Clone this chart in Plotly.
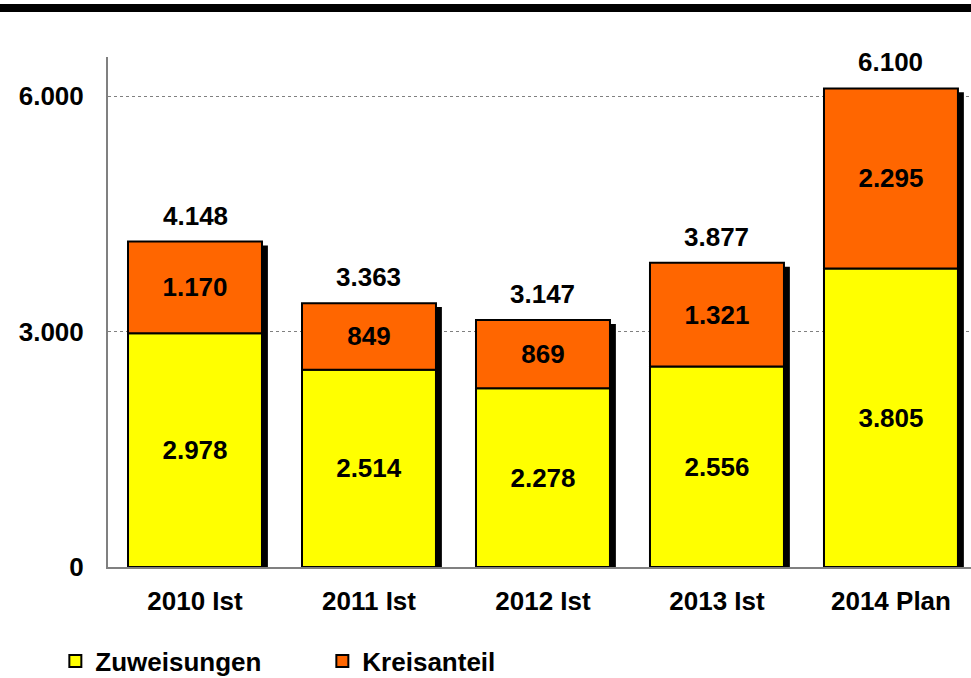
import plotly.graph_objects as go

# Categories and series values
jahre = ["2010 Ist", "2011 Ist", "2012 Ist", "2013 Ist", "2014 Plan"]
zuweisungen = [2978, 2514, 2278, 2556, 3805]
kreisanteil = [1170, 849, 869, 1321, 2295]
gesamt = [4148, 3363, 3147, 3877, 6100]
y_ticks = [0, 3000, 6000]

GELB = "#FFFF00"
ORANGE = "#FF6600"
FONT = "Arial, Liberation Sans, sans-serif"
FS = 26

pos = list(range(len(jahre)))
BAR_W = 0.77
SHADOW_DX = 0.034      # shadow offset to the right (x units)
SHADOW_DY = 50         # shadow drop (y units)

fig = go.Figure()

# drop shadow behind each stacked column
fig.add_trace(go.Bar(
    x=pos, y=[g - SHADOW_DY for g in gesamt], base=0,
    width=BAR_W, offset=-BAR_W / 2 + SHADOW_DX,
    marker=dict(color="black", line=dict(width=0)),
    showlegend=False, hoverinfo="skip",
))

fig.add_trace(go.Bar(
    x=pos, y=zuweisungen, base=0, name="Zuweisungen",
    width=BAR_W,
    marker=dict(color=GELB, line=dict(color="black", width=2)),
    text=zuweisungen, texttemplate="<b>%{y:,.0f}</b>",
    textposition="inside", insidetextanchor="middle", textangle=0,
    textfont=dict(family=FONT, size=FS, color="black"),
    constraintext="none",
))

fig.add_trace(go.Bar(
    x=pos, y=kreisanteil, base=zuweisungen, name="Kreisanteil",
    width=BAR_W,
    marker=dict(color=ORANGE, line=dict(color="black", width=2)),
    text=kreisanteil, texttemplate="<b>%{y:,.0f}</b>",
    textposition="inside", insidetextanchor="middle", textangle=0,
    textfont=dict(family=FONT, size=FS, color="black"),
    constraintext="none",
))

# totals above the columns
for xi, g in zip(pos, gesamt):
    fig.add_annotation(
        x=xi, y=g, xref="x", yref="y", text=f"<b>{g:,.0f}</b>".replace(",", "."),
        showarrow=False, yanchor="bottom", yshift=9,
        font=dict(family=FONT, size=FS, color="black"),
    )

# heavy rule across the top
fig.add_shape(type="rect", xref="paper", yref="paper",
              x0=-0.2, x1=1.05, y0=(567 - 12) / 510, y1=(567 - 4) / 510,
              fillcolor="black", line=dict(width=0), layer="above")

fig.update_layout(
    width=971, height=678,
    margin=dict(l=108, r=0, t=57, b=111),
    paper_bgcolor="white", plot_bgcolor="white",
    barmode="overlay",
    separators=",.",
    uniformtext=dict(minsize=FS, mode="show"),
    font=dict(family=FONT, size=FS, color="black"),
    xaxis=dict(
        range=[-0.5, 4.46], tickvals=pos,
        ticktext=[f"<b>{j}</b>" for j in jahre],
        showgrid=False, zeroline=False,
        showline=True, linecolor="#808080", linewidth=2,
        ticks="", ticklabelstandoff=10,
        tickfont=dict(family=FONT, size=FS, color="black"),
    ),
    yaxis=dict(
        range=[0, 6500], tickvals=y_ticks,
        ticktext=[f"<b>{v:,.0f}</b>".replace(",", ".") for v in y_ticks],
        showgrid=True, gridcolor="#808080", griddash="dot", gridwidth=1,
        zeroline=False,
        showline=True, linecolor="#808080", linewidth=2,
        ticks="", ticklabelstandoff=17,
        tickfont=dict(family=FONT, size=FS, color="black"),
    ),
    legend=dict(
        orientation="h", xref="container", yref="container",
        x=0.057, y=1 - 661 / 678, xanchor="left", yanchor="middle",
        entrywidth=222, entrywidthmode="pixels",
        font=dict(family=FONT, size=FS, color="black", weight="bold"),
        bgcolor="rgba(0,0,0,0)", itemclick=False,
    ),
    showlegend=True,
)

fig.write_html("out.html")
